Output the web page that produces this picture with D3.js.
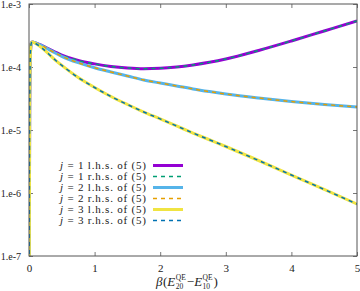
<!DOCTYPE html>
<html>
<head>
<meta charset="utf-8">
<script src="https://cdn.jsdelivr.net/npm/d3@7"></script>
<style>
  body { margin: 0; background: #fff; }
  text { font-family: "Liberation Serif", serif; fill: #222; }
</style>
</head>
<body>
<div id="vis"></div>
<script>
// frame and plot area
const FRAME_WIDTH = 360;
const FRAME_HEIGHT = 291;
const MARGINS = {left: 29, right: 3, top: 4, bottom: 35};
const VIS_WIDTH = FRAME_WIDTH - MARGINS.left - MARGINS.right;
const VIS_HEIGHT = FRAME_HEIGHT - MARGINS.top - MARGINS.bottom;

// data
const beta = [0, 0.01, 0.02, 0.035, 0.05, 0.1, 0.2, 0.3, 0.4, 0.5, 0.75, 1.0, 1.25, 1.5, 1.75, 2.0, 2.25, 2.5, 2.75, 3.0, 3.5, 4.0, 4.5, 5.0];
const j1 = [1e-9, 2e-5, 1.5e-4, 2.4e-4, 2.49e-4, 2.42e-4, 2.19e-4, 1.94e-4, 1.73e-4, 1.55e-4, 1.27e-4, 1.12e-4, 1.02e-4, 9.64e-5, 9.4e-5, 9.53e-5, 1.0e-4, 1.08e-4, 1.19e-4, 1.34e-4, 1.83e-4, 2.59e-4, 3.73e-4, 5.37e-4];
const j2 = [1e-9, 2e-5, 1.5e-4, 2.4e-4, 2.49e-4, 2.42e-4, 2.17e-4, 1.9e-4, 1.67e-4, 1.48e-4, 1.17e-4, 9.71e-5, 8.33e-5, 7.2e-5, 6.22e-5, 5.57e-5, 5.0e-5, 4.48e-5, 4.07e-5, 3.73e-5, 3.22e-5, 2.83e-5, 2.54e-5, 2.32e-5];
const j3 = [1e-9, 2e-5, 1.5e-4, 2.4e-4, 2.49e-4, 2.36e-4, 2.0e-4, 1.61e-4, 1.29e-4, 1.06e-4, 6.81e-5, 4.73e-5, 3.4e-5, 2.54e-5, 1.93e-5, 1.5e-5, 1.16e-5, 8.96e-6, 7.0e-6, 5.47e-6, 3.28e-6, 1.93e-6, 1.14e-6, 6.68e-7];

const xTicks = [0, 1, 2, 3, 4, 5];
const yTicks = [1e-7, 1e-6, 1e-5, 1e-4, 1e-3];
const yTickLabels = ["1.e-7", "1.e-6", "1.e-5", "1.e-4", "1.e-3"];

const series = [
  {label: "1 l.h.s. of (5)", values: j1, color: "#9400d3", width: 3, dash: null},
  {label: "1 r.h.s. of (5)", values: j1, color: "#009e73", width: 1.5, dash: "4,4"},
  {label: "2 l.h.s. of (5)", values: j2, color: "#56b4e9", width: 3, dash: null},
  {label: "2 r.h.s. of (5)", values: j2, color: "#e69f00", width: 1.5, dash: "4,4"},
  {label: "3 l.h.s. of (5)", values: j3, color: "#f0e442", width: 3, dash: null},
  {label: "3 r.h.s. of (5)", values: j3, color: "#0072b2", width: 1.5, dash: "4,4"}
];

const FRAME = d3.select("#vis")
  .append("svg")
    .attr("width", FRAME_WIDTH)
    .attr("height", FRAME_HEIGHT);

const X_SCALE = d3.scaleLinear().domain([0, 5]).range([0, VIS_WIDTH]);
const Y_SCALE = d3.scaleLog().domain([1e-7, 1e-3]).range([VIS_HEIGHT, 0]);

const plot = FRAME.append("g")
  .attr("transform", "translate(" + MARGINS.left + "," + MARGINS.top + ")");

plot.append("clipPath").attr("id", "clip")
  .append("rect").attr("width", VIS_WIDTH).attr("height", VIS_HEIGHT);

// ticks, inward and mirrored
const tickLen = 4;
const tickColor = "#777";
plot.append("g")
  .attr("transform", "translate(0," + VIS_HEIGHT + ")")
  .call(d3.axisBottom(X_SCALE).tickValues(xTicks).tickSizeInner(-tickLen).tickSizeOuter(0).tickPadding(8)
    .tickFormat(d3.format("d")))
  .call(g => g.select(".domain").remove())
  .call(g => g.selectAll("line").attr("stroke", tickColor))
  .call(g => g.selectAll("text").attr("font-size", "11px").attr("font-family", "Liberation Serif").attr("fill", "#222"));
plot.append("g")
  .call(d3.axisTop(X_SCALE).tickValues(xTicks).tickSizeInner(-tickLen).tickSizeOuter(0).tickFormat(""))
  .call(g => g.select(".domain").remove())
  .call(g => g.selectAll("line").attr("stroke", tickColor));
plot.append("g")
  .call(d3.axisLeft(Y_SCALE).tickValues(yTicks).tickSizeInner(-tickLen).tickSizeOuter(0).tickPadding(8)
    .tickFormat((d, i) => yTickLabels[i]))
  .call(g => g.select(".domain").remove())
  .call(g => g.selectAll("line").attr("stroke", tickColor))
  .call(g => g.selectAll("text").attr("font-size", "10px").attr("font-family", "Liberation Serif").attr("fill", "#222"));
plot.append("g")
  .attr("transform", "translate(" + VIS_WIDTH + ",0)")
  .call(d3.axisRight(Y_SCALE).tickValues(yTicks).tickSizeInner(-tickLen).tickSizeOuter(0).tickFormat(""))
  .call(g => g.select(".domain").remove())
  .call(g => g.selectAll("line").attr("stroke", tickColor));

// curves
const line = d3.line()
  .x((d, i) => X_SCALE(beta[i]))
  .y(d => Y_SCALE(d))
  .curve(d3.curveMonotoneX);

const curves = plot.append("g").attr("clip-path", "url(#clip)");
series.forEach(s => {
  curves.append("path")
    .attr("d", line(s.values))
    .attr("fill", "none")
    .attr("stroke", s.color)
    .attr("stroke-width", s.width)
    .attr("stroke-dasharray", s.dash);
});

// frame
plot.append("rect")
  .attr("width", VIS_WIDTH).attr("height", VIS_HEIGHT)
  .attr("fill", "none").attr("stroke", "#555").attr("stroke-width", 1);

// legend
const legend = FRAME.append("g");
series.forEach((s, i) => {
  const y = 165.5 + i * 11;
  const t = legend.append("text")
    .attr("x", 146).attr("y", y + 3.5)
    .attr("text-anchor", "end")
    .attr("font-size", "11px")
    .attr("textLength", 86)
    .attr("lengthAdjust", "spacing");
  t.append("tspan").attr("font-style", "italic").text("j");
  t.append("tspan").text(" = " + s.label);
  legend.append("line")
    .attr("x1", 153).attr("x2", 183).attr("y1", y).attr("y2", y)
    .attr("stroke", s.color)
    .attr("stroke-width", s.width)
    .attr("stroke-dasharray", s.dash);
});

// x label: β(E^QE_20 − E^QE_10)
const xl = FRAME.append("g").attr("font-size", "13px");
let cx = 0;
function piece(str, opts) {
  const t = xl.append("text").attr("x", cx).attr("y", (opts && opts.dy) || 0).text(str);
  if (opts && opts.italic) t.attr("font-style", "italic");
  if (opts && opts.size) t.attr("font-size", opts.size);
  return t.node().getComputedTextLength();
}
function stacked(sup, sub) {
  const w1 = piece(sup, {dy: -6, size: "7.5px"});
  const w2 = piece(sub, {dy: 3, size: "7.5px"});
  cx += Math.max(w1, w2) + 1;
}
cx += piece("β", {italic: true}) + 0.5;
cx += piece("(");
cx += piece("E", {italic: true}) + 0.5;
stacked("QE", "20");
cx += piece(" − ");
cx += piece("E", {italic: true}) + 0.5;
stacked("QE", "10");
cx += piece(")");
xl.attr("transform", "translate(156,286)");
</script>
</body>
</html>
